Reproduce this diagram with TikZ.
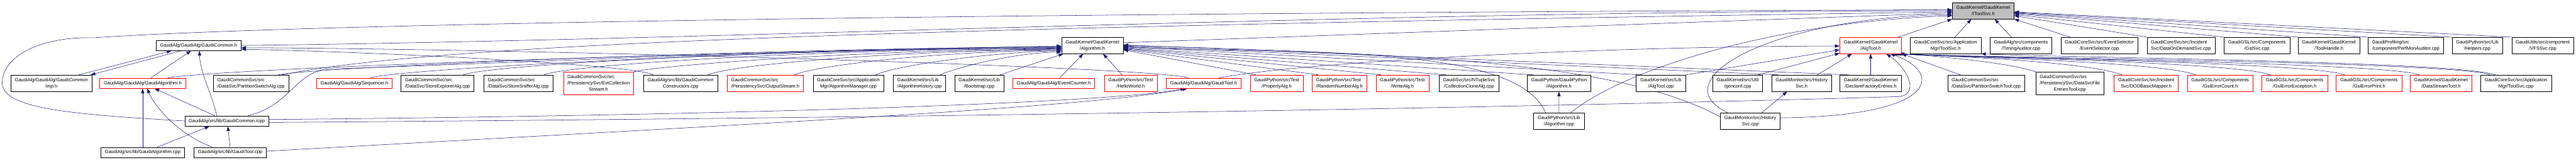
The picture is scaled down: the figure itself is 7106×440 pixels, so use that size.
\documentclass[tikz,border=0pt]{standalone}
\usepackage{fontspec}
\setmainfont{Liberation Sans}
\usepackage{xcolor}
\usepackage{tikz}
\usetikzlibrary{arrows.meta,backgrounds}
\definecolor{edgeblue}{RGB}{25,25,112}
\definecolor{rootgray}{RGB}{191,191,191}
\definecolor{boxred}{RGB}{255,0,0}
\newcommand{\filefont}{\fontsize{13}{17.3}\selectfont}
% wrapped file names: upper lines flush left, last line centred
\newcommand{\twol}[2]{\begin{tabular}{@{}l@{}}#1\\\multicolumn{1}{@{}c@{}}{#2}\end{tabular}}
\newcommand{\threel}[3]{\begin{tabular}{@{}l@{}}#1\\#2\\\multicolumn{1}{@{}c@{}}{#3}\end{tabular}}
\tikzset{
  file-node/.style={draw=black, line width=0.9pt, fill=white, font=\filefont,
    inner xsep=11pt, inner ysep=5.2pt, minimum height=28.3pt},
  red-node/.style={file-node, draw=boxred},
  root-node/.style={file-node, fill=rootgray},
  include-arrow/.style={draw=edgeblue, line width=0.9pt, -{Triangle[length=13pt,width=9pt]}}
}
\begin{document}
\begin{tikzpicture}[x=1pt, y=-1pt]
\useasboundingbox (0,0) rectangle (7106,440);
% the header everything leads to
\node[root-node] (root) at (5470.7,29.7) {\twol{GaudiKernel/GaudiKernel}{/IToolSvc.h}};
% first row
\node[file-node] (GCommonH) at (548,125.2) {GaudiAlg/GaudiAlg/GaudiCommon.h};
\node[file-node] (AlgorithmH) at (3013.4,125.2) {\twol{GaudiKernel/GaudiKernel}{/Algorithm.h}};
\node[red-node] (AlgToolH) at (5160.3,125.2) {\twol{GaudiKernel/GaudiKernel}{/AlgTool.h}};
\node[file-node] (ToolSvcH) at (5367.1,125.2) {\twol{GaudiCoreSvc/src/Application}{Mgr/ToolSvc.h}};
\node[file-node] (TimingAuditor) at (5574.8,125.2) {\twol{GaudiAlg/src/components}{/TimingAuditor.cpp}};
\node[file-node] (EventSelector) at (5790.9,125.2) {\twol{GaudiCoreSvc/src/EventSelector}{/EventSelector.cpp}};
\node[file-node] (DataOnDemand) at (6016.2,125.2) {\twol{GaudiCoreSvc/src/Incident}{Svc/DataOnDemandSvc.cpp}};
\node[file-node] (GslSvc) at (6225.7,125.2) {\twol{GaudiGSL/src/Components}{/GslSvc.cpp}};
\node[file-node] (ToolHandle) at (6424.5,125.2) {\twol{GaudiKernel/GaudiKernel}{/ToolHandle.h}};
\node[file-node] (PerfMon) at (6636.4,125.2) {\twol{GaudiProfiling/src}{/component/PerfMonAuditor.cpp}};
\node[file-node] (Helpers) at (6833.6,125.2) {\twol{GaudiPython/src/Lib}{/Helpers.cpp}};
\node[file-node] (VFSSvc) at (7014,125.2) {\twol{GaudiUtils/src/component}{/VFSSvc.cpp}};
% second row
\node[file-node] (CommonImp) at (142,229.2) {\twol{GaudiAlg/GaudiAlg/GaudiCommon}{Imp.h}};
\node[red-node] (GAlgH) at (393.6,229.2) {GaudiAlg/GaudiAlg/GaudiAlgorithm.h};
\node[file-node] (PartSwAlg) at (692.4,229.2) {\twol{GaudiCommonSvc/src}{/DataSvc/PartitionSwitchAlg.cpp}};
\node[red-node] (SequencerH) at (977.5,229.2) {GaudiAlg/GaudiAlg/Sequencer.h};
\node[file-node] (StoreExplorer) at (1207,229.2) {\twol{GaudiCommonSvc/src}{/DataSvc/StoreExplorerAlg.cpp}};
\node[file-node] (StoreSniffer) at (1429.7,229.2) {\twol{GaudiCommonSvc/src}{/DataSvc/StoreSnifferAlg.cpp}};
\node[red-node] (EvtCollStream) at (1651,229.2) {\threel{GaudiCommonSvc/src}{/PersistencySvc/EvtCollection}{Stream.h}};
\node[file-node] (CommonCtors) at (1877.5,229.2) {\twol{GaudiAlg/src/lib/GaudiCommon}{Constructors.cpp}};
\node[red-node] (OutputStreamH) at (2111,229.2) {\twol{GaudiCommonSvc/src}{/PersistencySvc/OutputStream.h}};
\node[file-node] (AlgMgrCpp) at (2340.3,229.2) {\twol{GaudiCoreSvc/src/Application}{Mgr/AlgorithmManager.cpp}};
\node[file-node] (AlgHistCpp) at (2536.4,229.2) {\twol{GaudiKernel/src/Lib}{/AlgorithmHistory.cpp}};
\node[file-node] (Bootstrap) at (2701.4,229.2) {\twol{GaudiKernel/src/Lib}{/Bootstrap.cpp}};
\node[red-node] (EventCounterH) at (2907,229.2) {GaudiAlg/GaudiAlg/EventCounter.h};
\node[red-node] (HelloWorldH) at (3119,229.2) {\twol{GaudiPython/src/Test}{/HelloWorld.h}};
\node[red-node] (GaudiToolH) at (3320.3,229.2) {GaudiAlg/GaudiAlg/GaudiTool.h};
\node[red-node] (PropertyAlgH) at (3521.7,229.2) {\twol{GaudiPython/src/Test}{/PropertyAlg.h}};
\node[red-node] (RandomNumberAlgH) at (3694.8,229.2) {\twol{GaudiPython/src/Test}{/RandomNumberAlg.h}};
\node[red-node] (WriteAlgH) at (3868.4,229.2) {\twol{GaudiPython/src/Test}{/WriteAlg.h}};
\node[file-node] (CollCloneAlg) at (4052.2,229.2) {\twol{GaudiSvc/src/NTupleSvc}{/CollectionCloneAlg.cpp}};
\node[file-node] (GPyAlgH) at (4300.5,229.2) {\twol{GaudiPython/GaudiPython}{/Algorithm.h}};
\node[file-node] (AlgToolCpp) at (4581.6,229.2) {\twol{GaudiKernel/src/Lib}{/AlgTool.cpp}};
\node[file-node] (Genconf) at (4793.5,229.2) {\twol{GaudiKernel/src/Util}{/genconf.cpp}};
\node[file-node] (HistSvcH) at (4969.7,229.2) {\twol{GaudiMonitor/src/History}{Svc.h}};
\node[file-node] (DeclFactH) at (5160.3,229.2) {\twol{GaudiKernel/GaudiKernel}{/DeclareFactoryEntries.h}};
\node[file-node] (PartSwTool) at (5478.8,229.2) {\twol{GaudiCommonSvc/src}{/DataSvc/PartitionSwitchTool.cpp}};
\node[file-node] (DataSvcFileEntries) at (5709.7,229.2) {\threel{GaudiCommonSvc/src}{/PersistencySvc/DataSvcFile}{EntriesTool.cpp}};
\node[red-node] (DODBasicMapper) at (5920.4,229.2) {\twol{GaudiCoreSvc/src/Incident}{Svc/DODBasicMapper.h}};
\node[red-node] (GslErrorCount) at (6124.3,229.2) {\twol{GaudiGSL/src/Components}{/GslErrorCount.h}};
\node[red-node] (GslErrorException) at (6329.8,229.2) {\twol{GaudiGSL/src/Components}{/GslErrorException.h}};
\node[red-node] (GslErrorPrint) at (6534.9,229.2) {\twol{GaudiGSL/src/Components}{/GslErrorPrint.h}};
\node[red-node] (DataStreamTool) at (6733.6,229.2) {\twol{GaudiKernel/GaudiKernel}{/DataStreamTool.h}};
\node[file-node] (ToolSvcCpp) at (6940.5,229.2) {\twol{GaudiCoreSvc/src/Application}{Mgr/ToolSvc.cpp}};
% third row
\node[file-node] (icpp) at (625.5,333.2) {GaudiAlg/src/lib/GaudiCommon.icpp};
\node[file-node] (GPyAlgCpp) at (4300.3,333.3) {\twol{GaudiPython/src/Lib}{/Algorithm.cpp}};
\node[file-node] (HistSvcCpp) at (4828.3,333.3) {\twol{GaudiMonitor/src/History}{Svc.cpp}};
% bottom row
\node[file-node] (GAlgCpp) at (393.6,419.8) {GaudiAlg/src/lib/GaudiAlgorithm.cpp};
\node[file-node] (GToolCpp) at (634.8,419.8) {GaudiAlg/src/lib/GaudiTool.cpp};

\begin{scope}[on background layer]
% first row into the root
\draw[include-arrow] (GCommonH.east) .. controls (2000,110) and (3800,30) .. (root.180);
\draw[include-arrow] (AlgorithmH.5) -- (root.184);
\draw[include-arrow] (AlgToolH.17) -- (root.south west);
\draw[include-arrow] (ToolSvcH.42) -- (root.215);
\draw[include-arrow] (TimingAuditor.139) -- (root.324);
\draw[include-arrow] (EventSelector.164) -- (root.south east);
\draw[include-arrow] (DataOnDemand.north west) -- (root.351);
\draw[include-arrow] (GslSvc.north west) -- (root.353);
\draw[include-arrow] (ToolHandle.north west) -- (root.355);
\draw[include-arrow] (PerfMon.north west) -- (root.356);
\draw[include-arrow] (Helpers.north west) -- (root.357);
\draw[include-arrow] (VFSSvc.north west) -- (root.358);
% longer ways into the root (the icpp one loops round the left edge)
\draw[include-arrow] (icpp.west) .. controls (200,315) and (10,300) .. (6,230)
  .. controls (6,150) and (120,100) .. (260,104) .. controls (600,80) and (1800,40) .. (root.178);
\draw[include-arrow] (PartSwAlg.15) .. controls (1200,120) and (2500,75) .. (root.182);
\draw[include-arrow] (GPyAlgCpp.35) .. controls (4480,190) and (4900,60) .. (root.189);
\draw[include-arrow] (HistSvcCpp.160) .. controls (4580,220) and (4886,48) .. (root.187);
% into GaudiCommon.h
\draw[include-arrow] (CommonImp.17) -- (GCommonH.191);
\draw[include-arrow] (GCommonH.197) -- (CommonImp.12);
\draw[include-arrow] (GAlgH.33) -- (GCommonH.215);
\draw[include-arrow] (icpp.152) .. controls (585,260) and (552,200) .. (GCommonH.278);
\draw[include-arrow] (GaudiToolH.161) .. controls (3200,185) and (1500,135) .. (GCommonH.357);
\draw[include-arrow] (CommonCtors.163) .. controls (1760,180) and (1100,145) .. (GCommonH.355);
% into GaudiAlgorithm.h and GaudiCommon.icpp
\draw[include-arrow] (GAlgCpp.north) -- (GAlgH.south);
\draw[include-arrow] (GToolCpp.163) .. controls (500,375) and (430,300) .. (GAlgH.310);
\draw[include-arrow] (icpp.156) -- (GAlgH.336);
\draw[include-arrow] (GAlgCpp.20) -- (icpp.197);
\draw[include-arrow] (GToolCpp.north) -- (icpp.281);
% into GaudiTool.h
\draw[include-arrow] (icpp.2) .. controls (2000,318) and (3050,285) .. (GaudiToolH.196);
\draw[include-arrow] (GToolCpp.2) .. controls (2200,335) and (3000,295) .. (GaudiToolH.198);
% into Algorithm.h from the left
\draw[include-arrow] (GAlgH.12) .. controls (609,190) and (1729,150) .. (AlgorithmH.181);
\draw[include-arrow] (icpp.14) .. controls (800,290) and (810,205) .. (900,190)
  .. controls (1400,175) and (2200,135) .. (AlgorithmH.182);
\draw[include-arrow] (PartSwAlg.17) .. controls (850,185) and (2200,130) .. (AlgorithmH.183);
\draw[include-arrow] (SequencerH.18) .. controls (1080,190) and (2229,132) .. (AlgorithmH.184);
\draw[include-arrow] (StoreExplorer.18) .. controls (1348,177) and (2229,133) .. (AlgorithmH.185);
\draw[include-arrow] (StoreSniffer.18) .. controls (1570,177) and (2300,134) .. (AlgorithmH.186);
\draw[include-arrow] (EvtCollStream.north east) .. controls (1820,180) and (2400,136) .. (AlgorithmH.187);
\draw[include-arrow] (CommonCtors.17) .. controls (2020,177) and (2500,138) .. (AlgorithmH.188);
\draw[include-arrow] (OutputStreamH.16) .. controls (2250,180) and (2600,140) .. (AlgorithmH.189);
\draw[include-arrow] (AlgMgrCpp.17) .. controls (2470,180) and (2750,142) .. (AlgorithmH.190);
\draw[include-arrow] (AlgHistCpp.22) .. controls (2640,185) and (2800,145) .. (AlgorithmH.192);
\draw[include-arrow] (Bootstrap.22) -- (AlgorithmH.196);
\draw[include-arrow] (EventCounterH.42) -- (AlgorithmH.222);
\draw[include-arrow] (HelloWorldH.136) -- (AlgorithmH.322);
% into Algorithm.h from the right
\draw[include-arrow] (PropertyAlgH.158) -- (AlgorithmH.352);
\draw[include-arrow] (RandomNumberAlgH.158) -- (AlgorithmH.353);
\draw[include-arrow] (WriteAlgH.158) -- (AlgorithmH.354);
\draw[include-arrow] (CollCloneAlg.160) -- (AlgorithmH.355);
\draw[include-arrow] (GPyAlgH.162) -- (AlgorithmH.356);
\draw[include-arrow] (GPyAlgCpp.148) .. controls (4180,120) and (3600,150) .. (AlgorithmH.357);
\draw[include-arrow] (AlgToolCpp.157) -- (AlgorithmH.358);
\draw[include-arrow] (HistSvcH.160) -- (AlgorithmH.359);
\draw[include-arrow] (HistSvcCpp.172) .. controls (4480,180) and (4000,150) .. (AlgorithmH.0);
\draw[include-arrow] (DeclFactH.159) -- (AlgorithmH.1);
% python algorithm and history service headers
\draw[include-arrow] (GPyAlgCpp.north) -- (GPyAlgH.south);
\draw[include-arrow] (HistSvcCpp.36) -- (HistSvcH.210);
% into AlgTool.h
\draw[include-arrow] (GaudiToolH.19) .. controls (3600,170) and (4400,128) .. (AlgToolH.181);
\draw[include-arrow] (AlgToolCpp.north east) -- (AlgToolH.188);
\draw[include-arrow] (Genconf.22) -- (AlgToolH.194);
\draw[include-arrow] (HistSvcH.28) -- (AlgToolH.204);
\draw[include-arrow] (DeclFactH.north) -- (AlgToolH.south);
\draw[include-arrow] (icpp.358) .. controls (2500,325) and (4200,297) .. (5240,266)
  .. controls (5290,260) and (5270,195) .. (AlgToolH.332);
\draw[include-arrow] (HistSvcCpp.6) .. controls (5350,320) and (5360,200) .. (AlgToolH.337);
% tools on the right into AlgTool.h and ToolSvc.h
\draw[include-arrow] (PartSwTool.162) -- (AlgToolH.south east);
\draw[include-arrow] (DataSvcFileEntries.north west) .. controls (5560,178) and (5400,158) .. (AlgToolH.344);
\draw[include-arrow] (DODBasicMapper.161) .. controls (5763,172) and (5450,158) .. (AlgToolH.343);
\draw[include-arrow] (GslErrorCount.161) .. controls (5970,172) and (5450,158) .. (AlgToolH.342);
\draw[include-arrow] (GslErrorException.161) .. controls (6175,172) and (5460,158) .. (AlgToolH.341);
\draw[include-arrow] (GslErrorPrint.161) .. controls (6380,172) and (5470,159) .. (AlgToolH.340);
\draw[include-arrow] (DataStreamTool.159) .. controls (6585,172) and (5480,160) .. (AlgToolH.339);
\draw[include-arrow] (ToolSvcCpp.162) .. controls (6780,170) and (5450,158) .. (AlgToolH.338);
\draw[include-arrow] (ToolSvcCpp.158) .. controls (6780,168) and (5650,158) .. (ToolSvcH.south east);
\end{scope}
\end{tikzpicture}
\end{document}
